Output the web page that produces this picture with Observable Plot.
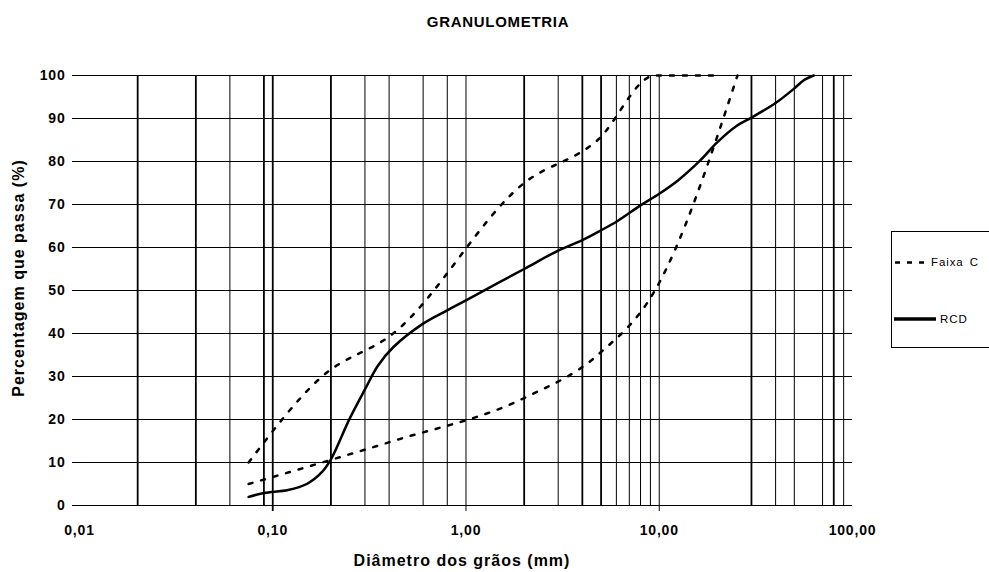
<!DOCTYPE html>
<html><head><meta charset="utf-8">
<script src="https://cdn.jsdelivr.net/npm/d3@7"></script>
<script src="https://cdn.jsdelivr.net/npm/@observablehq/plot@0.6"></script>
<style>
body{margin:0;background:#fff;overflow:hidden;}
#wrap{position:relative;width:989px;height:572px;overflow:hidden;font-family:"Liberation Sans",Arial,sans-serif;}
#wrap svg{position:absolute;left:0;top:0;}
</style></head>
<body><div id="wrap"></div>
<script>
// Tick values and labels
const xTickValues = [0.01, 0.1, 1, 10, 100];
const xTickLabels = ["0,01", "0,10", "1,00", "10,00", "100,00"];
const yTickValues = [0, 10, 20, 30, 40, 50, 60, 70, 80, 90, 100];
// Vertical grid lines (sieve openings, mm)
const thinGrid = [0.06, 0.3, 0.4, 0.6, 0.8, 3, 6, 7, 8, 9, 40, 50, 70, 90];
const thickGrid = [0.02, 0.04, 0.09, 0.2, 2, 4, 5, 30, 80];
const tickedGridThin = [1, 10];
const tickedGridThick = [0.1];
// Faixa C envelope
const upperSize = [0.075, 0.18, 0.42, 2.0, 4.8, 9.5, 19];
const upperPass = [10, 30, 40, 75, 85, 100, 100];
const lowerSize = [0.075, 0.18, 0.42, 2.0, 4.8, 9.5, 25.4];
const lowerPass = [5, 10, 15, 25, 35, 50, 100];
// RCD grading curve
const rcdSize = [0.075, 0.09, 0.12, 0.15, 0.18, 0.2, 0.25, 0.3, 0.35, 0.42, 0.6, 0.8, 1.0, 1.5, 2.0, 3.0, 4.0, 5.0, 6.0, 8.0, 10, 12.5, 16, 20, 25, 30, 40, 50, 56, 63];
const rcdPass = [2.0, 2.9, 3.6, 5.0, 7.8, 10.7, 20.2, 27, 32.5, 36.8, 42.3, 45.4, 47.7, 52, 55, 59.3, 61.7, 64, 66, 69.8, 72.5, 75.6, 79.9, 84.5, 88.2, 90.2, 93.6, 97.0, 98.9, 100];

const upper = upperSize.map((d, i) => ({size: d, pass: upperPass[i]}));
const lower = lowerSize.map((d, i) => ({size: d, pass: lowerPass[i]}));
const rcd = rcdSize.map((d, i) => ({size: d, pass: rcdPass[i]}));

const chart = Plot.plot({
  width: 989,
  height: 572,
  marginTop: 75,
  marginBottom: 67,
  marginLeft: 72,
  marginRight: 137,
  style: {fontFamily: '"Liberation Sans", Arial, sans-serif', fontSize: "14px", fontWeight: "bold", letterSpacing: "0.8px", background: "white", color: "black"},
  x: {type: "log", domain: [0.0092, 100], ticks: xTickValues, tickFormat: d => xTickLabels[xTickValues.indexOf(d)], tickSize: 0, tickPadding: 20, label: null},
  y: {domain: [0, 100], ticks: yTickValues, tickSize: 0, tickPadding: 7, label: null},
  marks: [
    Plot.ruleY(yTickValues, {stroke: "black", strokeWidth: 1}),
    Plot.ruleX(thinGrid, {stroke: "black", strokeWidth: 1}),
    Plot.ruleX(thickGrid, {stroke: "black", strokeWidth: 1.8}),
    Plot.ruleX(tickedGridThin, {stroke: "black", strokeWidth: 1, insetBottom: -6}),
    Plot.ruleX(tickedGridThick, {stroke: "black", strokeWidth: 1.8, insetBottom: -6}),
    Plot.line(upper, {x: "size", y: "pass", curve: "monotone-x", stroke: "black", strokeWidth: 2.5, strokeDasharray: "4,9"}),
    Plot.line(lower, {x: "size", y: "pass", curve: "monotone-x", stroke: "black", strokeWidth: 2.5, strokeDasharray: "4,9"}),
    Plot.line(rcd, {x: "size", y: "pass", curve: "catmull-rom", stroke: "black", strokeWidth: 2.5})
  ]
});
const wrap = document.getElementById("wrap");
wrap.appendChild(chart);

// Overlay: titles and legend
const ns = "http://www.w3.org/2000/svg";
const ov = document.createElementNS(ns, "svg");
ov.setAttribute("width", 989); ov.setAttribute("height", 572);
ov.style.pointerEvents = "none";
ov.setAttribute("font-family", '"Liberation Sans", Arial, sans-serif');
function txt(s, x, y, opts) {
  const t = document.createElementNS(ns, "text");
  t.textContent = s;
  t.setAttribute("x", x); t.setAttribute("y", y);
  for (const k in opts) t.setAttribute(k, opts[k]);
  ov.appendChild(t);
  return t;
}
function el(name, attrs) {
  const e = document.createElementNS(ns, name);
  for (const k in attrs) e.setAttribute(k, attrs[k]);
  ov.appendChild(e);
  return e;
}
txt("GRANULOMETRIA", 498, 27, {"text-anchor": "middle", "font-weight": "bold", "font-size": 15, "letter-spacing": "0.7px"});
txt("Diâmetro dos grãos (mm)", 462, 566, {"text-anchor": "middle", "font-weight": "bold", "font-size": 16, "letter-spacing": "1px"});
txt("Percentagem que passa (%)", 0, 0, {"text-anchor": "middle", "font-weight": "bold", "font-size": 16, "letter-spacing": "1px", transform: "translate(24,278) rotate(-90)"});
// legend
el("rect", {x: 891.5, y: 231.5, width: 130, height: 116, fill: "white", stroke: "black", "stroke-width": 1});
el("line", {x1: 895, y1: 262.5, x2: 927, y2: 262.5, stroke: "black", "stroke-width": 2.5, "stroke-dasharray": "5,7"});
txt("Faixa C", 931, 266, {"font-size": 11.5, "letter-spacing": "0.9px", "word-spacing": "2px"});
el("line", {x1: 894, y1: 319, x2: 936, y2: 319, stroke: "black", "stroke-width": 3.5});
txt("RCD", 940, 323, {"font-size": 11.5, "letter-spacing": "0.9px"});
wrap.appendChild(ov);
</script>
</body></html>
